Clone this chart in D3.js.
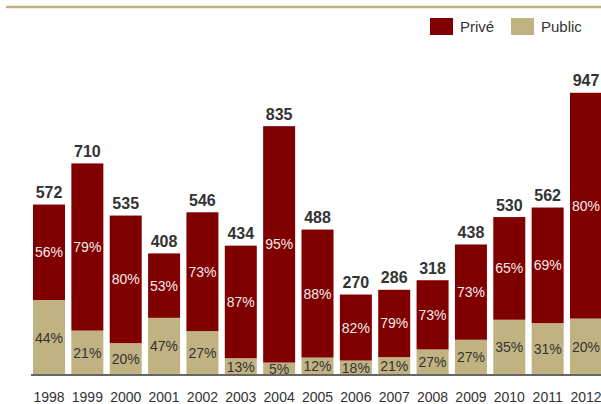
<!DOCTYPE html>
<html>
<head>
<meta charset="utf-8">
<script src="https://cdn.jsdelivr.net/npm/d3@7"></script>
<style>
    body { margin: 0; background: #fff; }
    #chart { width: 601px; height: 404px; }
    text { font-family: "Liberation Sans", Arial, sans-serif; }
</style>
</head>
<body>
<div id="chart"></div>
<script>

/* DATA: totals per year and share of the public sector */
const years = ["1998", "1999", "2000", "2001", "2002", "2003", "2004", "2005",
               "2006", "2007", "2008", "2009", "2010", "2011", "2012"];
const totals = [572, 710, 535, 408, 546, 434, 835, 488, 270, 286, 318, 438, 530, 562, 947];
const publicPct = [44, 21, 20, 47, 27, 13, 5, 12, 18, 21, 27, 27, 35, 31, 20];
const privePct = [56, 79, 80, 53, 73, 87, 95, 88, 82, 79, 73, 73, 65, 69, 80];
const series = ["Privé", "Public"];

const red = "#800000";
const tan = "#c1b282";

const width = 601;
const height = 404;
const svg = d3.select("#chart")
    .append("svg")
    .attr("width", width)
    .attr("height", height);

/* rows for each year */
let rows = years.map((y, i) => {
    return { year: y, total: totals[i], pub: publicPct[i], priv: privePct[i] };
});

/* SCALES */
const xScale = d3.scaleBand()
    .domain(years)
    .range([33, 602])
    .paddingInner(0.166)
    .paddingOuter(0);

const yScale = d3.scaleLinear()
    .domain([0, 1000])
    .range([375, 77]);

const colorScale = d3.scaleOrdinal()
    .domain(series)
    .range([red, tan]);

/* top rule */
svg.append("line")
    .attr("x1", 6).attr("x2", width)
    .attr("y1", 7).attr("y2", 7)
    .attr("stroke", tan)
    .attr("stroke-width", 2.5);

/* LEGEND */
let legend = svg.append("g")
    .selectAll("g")
    .data(series)
    .enter()
    .append("g")
        .attr("transform", (d, i) => "translate(" + [430, 511][i] + ",18)");

legend.append("rect")
    .attr("width", 23)
    .attr("height", 17)
    .attr("fill", d => colorScale(d));

legend.append("text")
    .attr("x", 30)
    .attr("y", 14)
    .attr("font-size", 15)
    .attr("fill", "#333")
    .text(d => d);

/* BARS */
let bar = svg.append("g")
    .selectAll("g")
    .data(rows)
    .enter()
    .append("g");

// public part at the bottom
bar.append("rect")
    .attr("x", d => xScale(d.year))
    .attr("width", xScale.bandwidth())
    .attr("y", d => yScale(d.total * d.pub / 100))
    .attr("height", d => yScale(0) - yScale(d.total * d.pub / 100))
    .attr("fill", tan);

// private part on top
bar.append("rect")
    .attr("x", d => xScale(d.year))
    .attr("width", xScale.bandwidth())
    .attr("y", d => yScale(d.total))
    .attr("height", d => yScale(d.total * d.pub / 100) - yScale(d.total))
    .attr("fill", red);

/* percentage labels */
bar.append("text")
    .attr("x", d => xScale(d.year) + xScale.bandwidth() / 2)
    .attr("y", d => (yScale(d.total) + yScale(d.total * d.pub / 100)) / 2)
    .attr("dy", "0.36em")
    .attr("text-anchor", "middle")
    .attr("font-size", 14)
    .attr("fill", "#f4eaea")
    .text(d => d.priv + "%");

bar.append("text")
    .attr("x", d => xScale(d.year) + xScale.bandwidth() / 2)
    .attr("y", d => (yScale(0) + yScale(d.total * d.pub / 100)) / 2)
    .attr("dy", "0.36em")
    .attr("text-anchor", "middle")
    .attr("font-size", 14)
    .attr("fill", "#333")
    .text(d => d.pub + "%");

/* totals above the bars */
bar.append("text")
    .attr("x", d => xScale(d.year) + xScale.bandwidth() / 2)
    .attr("y", d => yScale(d.total) - 6.5)
    .attr("text-anchor", "middle")
    .attr("font-size", 16)
    .attr("font-weight", "bold")
    .attr("fill", "#333")
    .text(d => d.total);

/* X AXIS */
let xAxis = svg.append("g")
    .attr("transform", "translate(0,375)")
    .call(d3.axisBottom(xScale).tickSize(0).tickPadding(17));

xAxis.select(".domain")
    .attr("d", "M31,0H601")
    .attr("stroke", "#666")
    .attr("stroke-width", 2);

xAxis.selectAll("text")
    .attr("font-family", "Liberation Sans, Arial, sans-serif")
    .attr("font-size", 14)
    .attr("fill", "#333");

</script>
</body>
</html>
